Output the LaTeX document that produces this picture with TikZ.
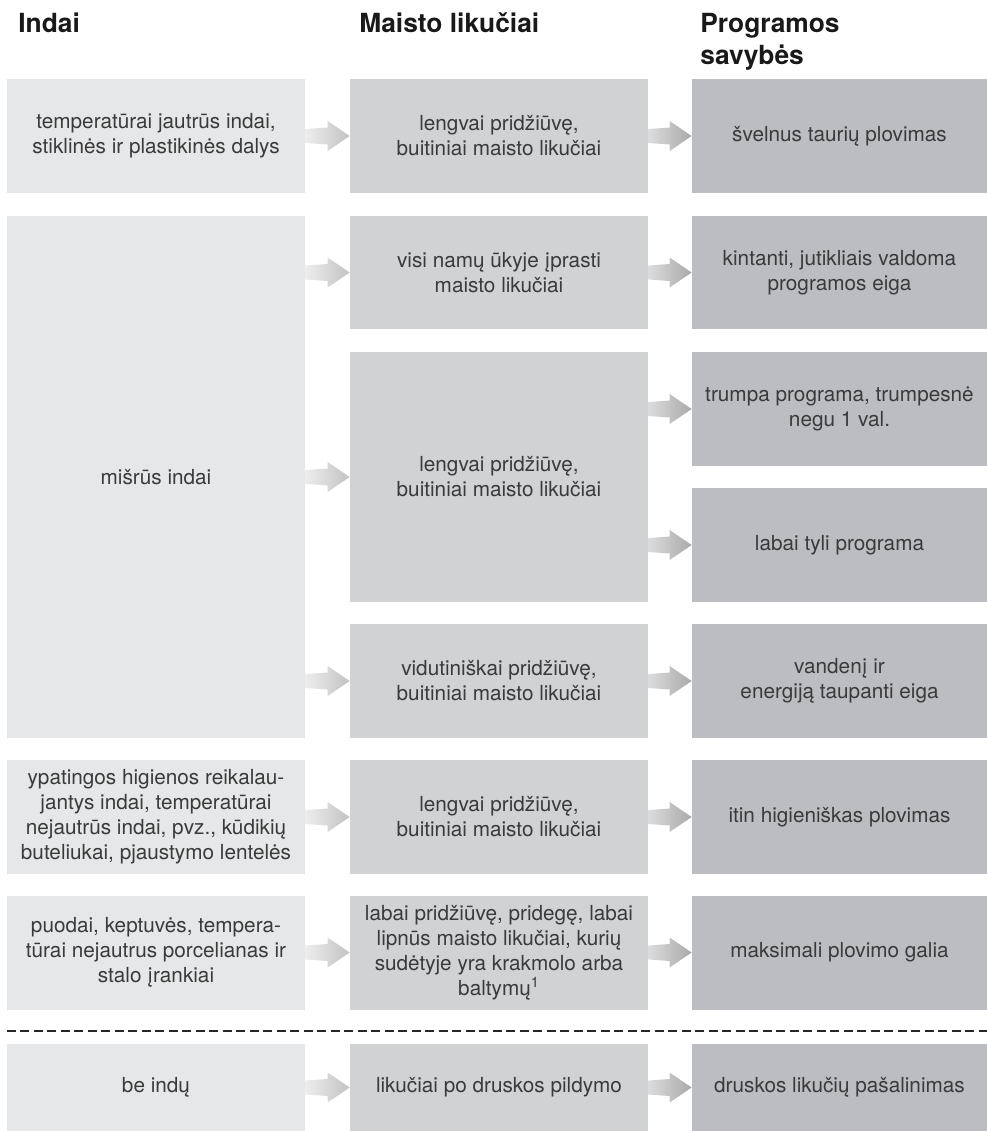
\documentclass[tikz,border=0pt]{standalone}
\usepackage{fontspec}
\setmainfont{TeX Gyre Heros}
\usetikzlibrary{calc}
\definecolor{colA}{HTML}{E6E7E8}
\definecolor{colB}{HTML}{D1D2D4}
\definecolor{colC}{HTML}{BCBDC1}
\definecolor{txt}{HTML}{3A3A3A}
\definecolor{arrAl}{HTML}{EDEDED}
\definecolor{arrAr}{HTML}{C2C2C2}
\definecolor{arrBl}{HTML}{DCDCDC}
\definecolor{arrBr}{HTML}{A9A9A9}
\newcommand{\bodyfont}{\fontsize{11.8}{14.2}\selectfont}
\newcommand{\headfont}{\fontsize{15}{18.2}\selectfont\bfseries}
% fat arrow from the edge of #1 to the centre of the west side of #2
\newcommand{\flowarrow}[3]{%
  \path[#3] let \p1=(#1.east |- #2.west), \p2=(#2.west) in
    (\x1,\y1+0.14cm) -- (\x2-0.44cm,\y1+0.17cm) -- (\x2-0.44cm,\y1+0.3cm) -- (\x2,\y2)
    -- (\x2-0.44cm,\y1-0.3cm) -- (\x2-0.44cm,\y1-0.17cm) -- (\x1,\y1-0.14cm) -- cycle;}
\tikzset{
  boxa/.style={fill=colA, minimum width=5.96cm, minimum height=2.28cm, inner sep=0pt,
    align=center, text=txt, font=\bodyfont},
  boxb/.style={boxa, fill=colB},
  boxc/.style={boxa, fill=colC, minimum width=5.9cm},
  head/.style={anchor=base west, inner sep=0pt, align=left, font=\headfont, text=black!90},
  arra/.style={left color=arrAl, right color=arrAr},
  arrb/.style={left color=arrBl, right color=arrBr}
}
\begin{document}
\begin{tikzpicture}
  \useasboundingbox (0,0) rectangle (19.74,-22.62);
  \node[head] (hIndai) at (0.36,-0.64) {Indai};
  \node[head] (hMaisto) at (7.18,-0.64) {Maisto likučiai};
  \node[head] (hProg) at (14.0,-1.28) {Programos\\savybės};

  \node[boxa] (r1a) at (3.12,-2.72) {temperatūrai jautrūs indai,\\stiklinės ir plastikinės dalys};
  \node[boxb] (r1b) at (9.98,-2.72) {lengvai pridžiūvę,\\buitiniai maisto likučiai};
  \node[boxc] (r1c) at (16.79,-2.72) {švelnus taurių plovimas};

  \node[boxa, minimum height=10.44cm] (mix) at (3.12,-9.54) {mišrūs indai};
  \node[boxb, minimum height=2.26cm] (c2a) at (9.98,-5.45) {visi namų ūkyje įprasti\\maisto likučiai};
  \node[boxb, minimum height=5cm] (c2b) at (9.98,-9.54) {lengvai pridžiūvę,\\buitiniai maisto likučiai};
  \node[boxb] (c2c) at (9.98,-13.62) {vidutiniškai pridžiūvę,\\buitiniai maisto likučiai};
  \node[boxc, minimum height=2.26cm] (c3a) at (16.79,-5.45) {kintanti, jutikliais valdoma\\programos eiga};
  \node[boxc] (c3b) at (16.79,-8.18) {trumpa programa, trumpesnė\\negu 1 val.};
  \node[boxc] (c3c) at (16.79,-10.9) {labai tyli programa};
  \node[boxc] (c3d) at (16.79,-13.62) {vandenį ir\\energiją taupanti eiga};

  \node[boxa] (r3a) at (3.12,-16.34) {ypatingos higienos reikalau-\\jantys indai, temperatūrai\\nejautrūs indai, pvz., kūdikių\\buteliukai, pjaustymo lentelės};
  \node[boxb] (r3b) at (9.98,-16.34) {lengvai pridžiūvę,\\buitiniai maisto likučiai};
  \node[boxc] (r3c) at (16.79,-16.34) {itin higieniškas plovimas};

  \node[boxa] (r4a) at (3.12,-19.05) {puodai, keptuvės, tempera-\\tūrai nejautrus porcelianas ir\\stalo įrankiai};
  \node[boxb] (r4b) at (9.98,-19.05) {labai pridžiūvę, pridegę, labai\\lipnūs maisto likučiai, kurių\\sudėtyje yra krakmolo arba\\baltymų\textsuperscript{1}};
  \node[boxc] (r4c) at (16.79,-19.05) {maksimali plovimo galia};

  \coordinate (dashL) at (0.14,-20.62);
  \coordinate (dashR) at (19.74,-20.62);
  \draw[line width=1.5pt, dash pattern=on 0.18cm off 0.09cm, black!85] (dashL) -- (dashR);

  \node[boxa, minimum height=1.74cm] (r5a) at (3.12,-21.75) {be indų};
  \node[boxb, minimum height=1.74cm] (r5b) at (9.98,-21.75) {likučiai po druskos pildymo};
  \node[boxc, minimum height=1.74cm] (r5c) at (16.79,-21.75) {druskos likučių pašalinimas};

  \foreach \a/\b in {r1a/r1b, mix/c2a, mix/c2b, mix/c2c, r3a/r3b, r4a/r4b, r5a/r5b}
    {\flowarrow{\a}{\b}{arra}}
  \foreach \a/\b in {r1b/r1c, c2a/c3a, c2b/c3b, c2b/c3c, c2c/c3d, r3b/r3c, r4b/r4c, r5b/r5c}
    {\flowarrow{\a}{\b}{arrb}}
\end{tikzpicture}
\end{document}
